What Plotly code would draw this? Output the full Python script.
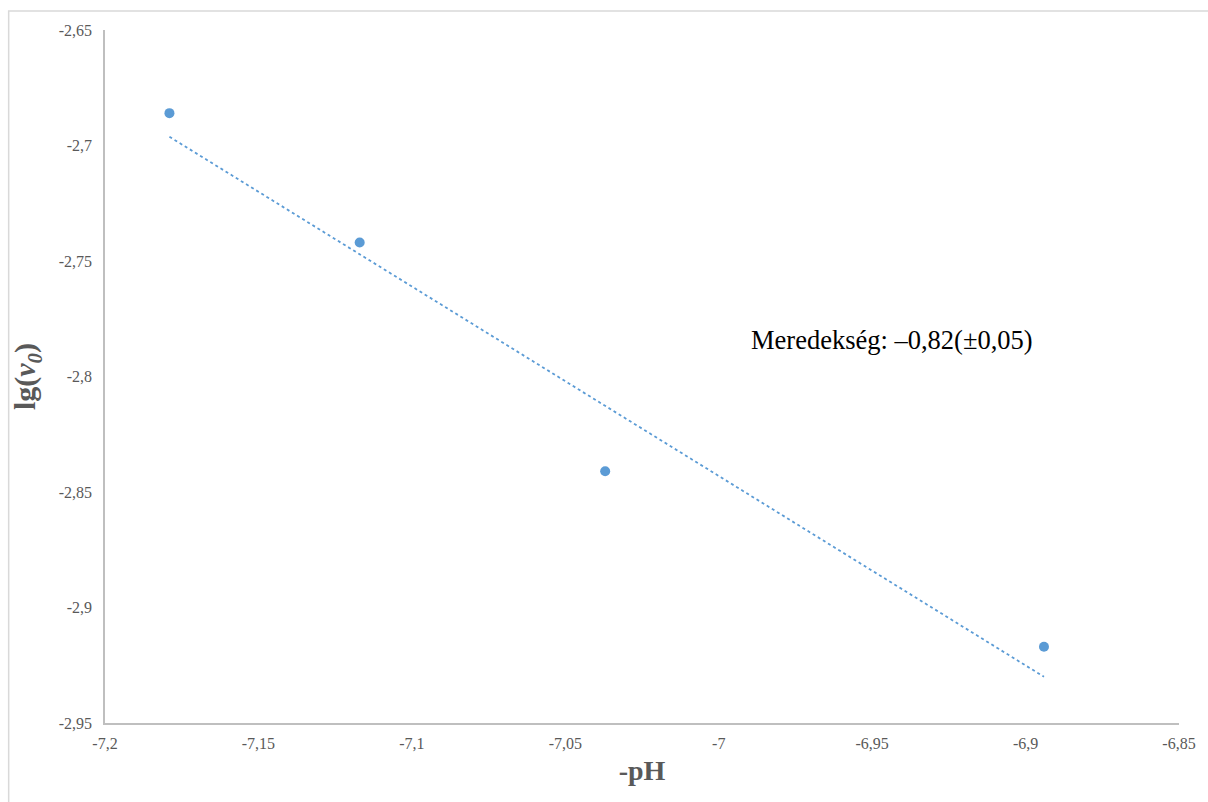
import numpy as np
import plotly.graph_objects as go

# Measured points: -pH vs lg(v0)
neg_ph = [-7.179, -7.117, -7.037, -6.894]
lg_v0 = [-2.686, -2.742, -2.841, -2.917]

x_ticks = [-7.2, -7.15, -7.1, -7.05, -7.0, -6.95, -6.9, -6.85]
x_ticktext = ["-7,2", "-7,15", "-7,1", "-7,05", "-7", "-6,95", "-6,9", "-6,85"]
y_ticks = [-2.95, -2.9, -2.85, -2.8, -2.75, -2.7, -2.65]
y_ticktext = ["-2,95", "-2,9", "-2,85", "-2,8", "-2,75", "-2,7", "-2,65"]

slope_label = "Meredekség: –0,82(±0,05)"

# Linear trend line fitted through the measured points
slope, intercept = np.polyfit(neg_ph, lg_v0, 1)
fit_x = [min(neg_ph), max(neg_ph)]
fit_y = [slope * v + intercept for v in fit_x]

blue = "#5b9bd5"
grey = "#595959"
serif = "Liberation Serif, Times New Roman, serif"

fig = go.Figure()
fig.add_trace(go.Scatter(
    x=fit_x, y=fit_y, mode="lines",
    line=dict(color=blue, width=1.8, dash="dot"),
    hoverinfo="skip", showlegend=False,
))
fig.add_trace(go.Scatter(
    x=neg_ph, y=lg_v0, mode="markers",
    marker=dict(color=blue, size=10),
    showlegend=False,
))

fig.update_layout(
    width=1208, height=802,
    margin=dict(l=105, r=22, t=30, b=79),
    paper_bgcolor="white", plot_bgcolor="white",
    font=dict(family=serif, color=grey, size=16),
    xaxis=dict(
        range=[-7.2, -6.85], tickvals=x_ticks, ticktext=x_ticktext,
        showgrid=False, zeroline=False, showline=True,
        linecolor="#bfbfbf", linewidth=1.5, ticks="", ticklen=0,
        ticklabelstandoff=5,
        tickfont=dict(family=serif, size=16, color=grey),
        title=dict(text="<b>-pH</b>", font=dict(family=serif, size=28, color=grey), standoff=9),
    ),
    yaxis=dict(
        range=[-2.95, -2.65], tickvals=y_ticks, ticktext=y_ticktext,
        showgrid=False, zeroline=False, showline=True,
        linecolor="#bfbfbf", linewidth=1.5, ticks="", ticklen=0,
        ticklabelstandoff=8,
        tickfont=dict(family=serif, size=16, color=grey),
        title=dict(text="<b>lg(<i>v<sub>0</sub></i>)</b>", font=dict(family=serif, size=30, color=grey), standoff=14),
    ),
    annotations=[dict(
        x=0.5994, y=0.553, xref="paper", yref="paper",
        xanchor="left", yanchor="middle", showarrow=False,
        text=slope_label, font=dict(family=serif, size=26.5, color="black"),
    )],
    shapes=[dict(
        type="rect", xref="paper", yref="paper",
        x0=-0.0897, x1=1.1, y0=-0.2, y1=1.0274,
        line=dict(color="#d9d9d9", width=1.5), fillcolor="rgba(0,0,0,0)", layer="below",
    )],
)

fig.write_html("out.html")
